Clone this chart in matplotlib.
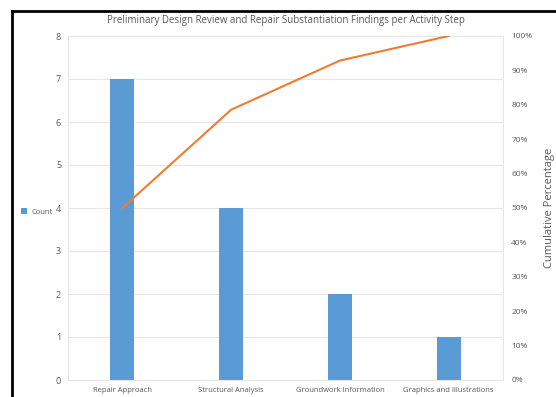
import matplotlib

matplotlib.use("Agg")
import matplotlib.pyplot as plt
from matplotlib.lines import Line2D
from matplotlib.ticker import FuncFormatter

categories = ["Repair Approach", "Structural Analysis", "Groundwork Information", "Graphics and Illustrations"]
counts = [7, 4, 2, 1]
cumulative_pct = [50.0, 78.57, 92.86, 100.0]

BAR_COLOR = "#5B9BD5"
LINE_COLOR = "#ED7D31"
TEXT_COLOR = "#595959"
GRID_COLOR = "#E6E6E6"

plt.rcParams["font.family"] = ["Open Sans", "DejaVu Sans"]

fig = plt.figure(figsize=(5.56, 3.97), dpi=100)
ax = fig.add_axes([68 / 556, 1 - 380 / 397, (503 - 68) / 556, (380 - 36) / 397])

x = list(range(len(categories)))
ax.bar(x, counts, width=0.22, color=BAR_COLOR, label="Count", zorder=2)
ax.set_xlim(-0.5, len(categories) - 0.5)
ax.set_ylim(0, 8)
ax.set_yticks(range(0, 9))
ax.set_xticks(x)
ax.set_xticklabels(categories, fontsize=5.5, color=TEXT_COLOR)
ax.tick_params(axis="y", labelsize=6.5, colors=TEXT_COLOR, length=0, pad=5)
ax.tick_params(axis="x", length=0, pad=5)
ax.grid(axis="y", color=GRID_COLOR, linewidth=0.8, zorder=0)
for side in ax.spines.values():
    side.set_color(GRID_COLOR)
    side.set_linewidth(0.8)

ax2 = ax.twinx()
ax2.plot(x, cumulative_pct, color=LINE_COLOR, linewidth=1.5, zorder=3)
ax2.set_ylim(0, 100)
ax2.set_yticks(range(0, 101, 10))
ax2.yaxis.set_major_formatter(FuncFormatter(lambda v, _: f"{int(v)}%"))
ax2.tick_params(axis="y", labelsize=6, colors=TEXT_COLOR, length=0, pad=6)
ax2.set_ylabel("Cumulative Percentage", fontsize=8, color=TEXT_COLOR, labelpad=8)
for side in ax2.spines.values():
    side.set_visible(False)

ax.set_title("Preliminary Design Review and Repair Substantiation Findings per Activity Step",
             fontsize=7, color=TEXT_COLOR, pad=9)

handles, labels = ax.get_legend_handles_labels()
fig.legend(handles, labels, loc="center left", bbox_to_anchor=(14 / 556, 1 - 212 / 397),
           frameon=False, fontsize=5.5, labelcolor=TEXT_COLOR, handlelength=0.8,
           handleheight=0.8, handletextpad=0.6)

# black frame on top and left edges
fig.add_artist(Line2D([12 / 556, 12 / 556], [0, 1 - 11 / 397], transform=fig.transFigure,
                      color="black", linewidth=2))
fig.add_artist(Line2D([12 / 556, 1], [1 - 11 / 397, 1 - 11 / 397], transform=fig.transFigure,
                      color="black", linewidth=2))

fig.savefig("out.png", dpi=100)
plt.close(fig)
